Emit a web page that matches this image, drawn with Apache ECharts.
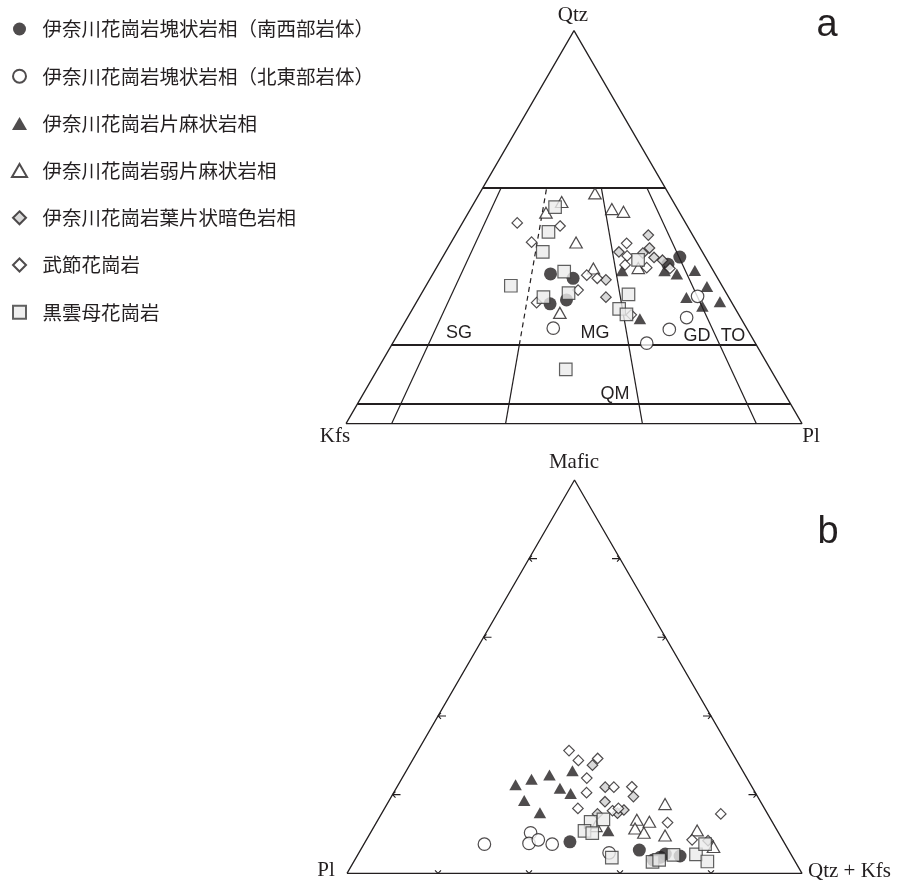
<!DOCTYPE html>
<html><head><meta charset="utf-8">
<script src="https://cdn.jsdelivr.net/npm/echarts@6/dist/echarts.min.js"></script>
<style>html,body{margin:0;padding:0;background:#fff}#c{width:899px;height:883px}</style>
</head><body><div id="c"></div>
<script>
// ---------- Series names (legend) ----------
const seriesNames = [
  '伊奈川花崗岩塊状岩相（南西部岩体）',
  '伊奈川花崗岩塊状岩相（北東部岩体）',
  '伊奈川花崗岩片麻状岩相',
  '伊奈川花崗岩弱片麻状岩相',
  '伊奈川花崗岩葉片状暗色岩相',
  '武節花崗岩',
  '黒雲母花崗岩'
];

// ---------- Diagram a : modal [Qtz, Kfs, Pl] (%) ----------
const qapSWMassive = [[38.1,36.1,25.8],[37.0,31.7,31.3],[30.5,40.0,29.5],[31.5,35.9,32.6],[42.4,5.6,52.0],[40.6,9.1,50.3]];
const qapNEMassive = [[24.3,42.4,33.3],[20.5,23.8,55.7],[24.0,17.1,58.9],[27.0,11.8,61.2],[32.4,6.7,60.9]];
const qapGneissic = [[38.9,20.0,41.1],[38.9,10.7,50.4],[38.1,8.4,53.5],[39.0,4.0,57.0],[34.9,3.4,61.7],[32.1,9.3,58.6],[29.9,6.9,63.2],[31.0,2.5,66.5],[26.7,22.2,51.1]];
const qapWeakGneissic = [[58.6,16.1,25.3],[56.4,24.5,19.1],[53.7,29.3,17.0],[54.6,14.4,31.0],[53.9,12.2,33.9],[46.1,26.5,27.4],[39.5,26.0,34.5],[39.6,16.1,44.3],[28.2,39.0,32.8]];
const qapFoliatedDark = [[48.0,9.7,42.3],[44.7,11.1,44.2],[43.4,13.2,43.4],[42.3,11.3,46.4],[41.6,9.8,48.6],[43.7,18.3,38.0],[36.6,24.7,38.7],[32.2,26.9,40.9]];
const qapBusetsu = [[51.1,36.9,12.0],[50.3,27.9,21.8],[46.2,36.2,17.6],[37.8,28.3,33.9],[37.0,26.4,36.6],[34.0,32.1,33.9],[30.8,42.8,26.4],[45.9,15.5,38.6],[42.7,17.0,40.3],[40.4,18.6,41.0],[39.7,14.2,46.1],[39.5,9.2,51.3],[27.7,23.6,48.7]];
const qapBiotite = [[55.1,26.6,18.3],[48.8,31.2,20.0],[43.7,35.0,21.3],[35.1,46.3,18.6],[38.7,32.8,28.5],[32.2,40.6,27.2],[33.2,34.6,32.2],[32.9,21.6,45.5],[29.2,25.5,45.3],[27.8,24.6,47.6],[13.8,44.9,41.3],[41.7,15.1,43.2]];

// ---------- Diagram b : [Mafic, Pl, Qtz+Kfs] (%) ----------
const mpqSWMassive = [[8.0,47.0,45.0],[5.9,32.8,61.3],[3.4,31.0,65.6],[4.1,29.1,66.8],[4.9,27.6,67.5],[4.4,24.6,71.0]];
const mpqNEMassive = [[7.4,66.1,26.5],[10.3,54.5,35.2],[7.6,56.2,36.2],[8.5,53.7,37.8],[7.4,51.2,41.4],[5.2,39.8,55.0]];
const mpqGneissic = [[22.5,51.7,25.8],[23.9,47.5,28.6],[25.0,43.0,32.0],[26.1,37.4,36.5],[21.6,42.4,36.0],[20.3,40.7,39.0],[18.5,51.8,29.7],[15.4,49.9,34.7],[10.8,37.2,52.0]];
const mpqWeakGneissic = [[12.0,39.3,48.7],[17.6,21.3,61.1],[13.6,29.5,56.9],[13.1,27.0,59.9],[11.4,31.0,57.6],[10.3,29.6,60.1],[9.6,25.3,65.1],[10.9,17.6,71.5],[6.7,16.1,77.2]];
const mpqFoliatedDark = [[27.5,32.3,40.2],[15.1,37.4,47.5],[15.3,32.9,51.8],[8.3,16.5,75.2],[18.2,34.2,47.6],[21.9,32.3,45.8],[19.5,27.3,53.2],[16.1,31.1,52.8]];
const mpqBusetsu = [[31.2,35.6,33.2],[28.7,34.8,36.5],[29.2,30.3,40.5],[24.2,35.2,40.6],[20.5,37.1,42.4],[21.9,30.4,47.7],[22.0,26.4,51.6],[16.5,41.0,42.5],[15.9,33.7,50.4],[16.5,32.1,51.4],[15.1,10.3,74.6],[8.5,19.9,71.6],[12.9,23.1,64.0]];
const mpqBiotite = [[4.0,39.8,56.2],[13.1,39.9,47.0],[13.7,36.8,49.5],[10.8,42.4,46.8],[10.2,41.0,48.8],[2.9,31.4,65.7],[4.7,25.9,69.4],[4.8,20.9,74.3],[3.0,19.3,77.7],[7.4,17.6,75.0],[3.4,29.7,66.9]];

// ---------- QAP field boundaries ----------
const qtzBoundaries = [60, 20, 5];          // Qtz % horizontal lines
const plRatios = [10, 35, 65, 90];          // Pl/(Kfs+Pl) % radial lines
const radialTopQ = 60;
const dashedRatio = 35, dashedFromQ = 20;
const fieldLabels = ['SG', 'MG', 'GD', 'TO', 'QM'];
// ---------- ticks of diagram b ----------
const bTicks = [20, 40, 60, 80];

const INK = '#231f20';
// ternary [top, left, right] -> cartesian (%), top vertex at (50,100)
function toXY(d) { return [d[2] + d[0] / 2, d[0]]; }

const dataA = [qapSWMassive, qapNEMassive, qapGneissic, qapWeakGneissic, qapFoliatedDark, qapBusetsu, qapBiotite];
const dataB = [mpqSWMassive, mpqNEMassive, mpqGneissic, mpqWeakGneissic, mpqFoliatedDark, mpqBusetsu, mpqBiotite];

const markerStyles = [
  {symbol: 'circle', symbolSize: 13, itemStyle: {color: INK, borderColor: INK, borderWidth: 0}},
  {symbol: 'circle', symbolSize: 12.5, itemStyle: {color: '#fff', borderColor: INK, borderWidth: 1.2}},
  {symbol: 'triangle', symbolSize: [12.5, 11], itemStyle: {color: INK, borderColor: INK, borderWidth: 0}},
  {symbol: 'triangle', symbolSize: [12.5, 11], itemStyle: {color: '#fff', borderColor: INK, borderWidth: 1.2}},
  {symbol: 'diamond', symbolSize: 10.5, itemStyle: {color: '#d0d0d0', borderColor: INK, borderWidth: 1.2}},
  {symbol: 'diamond', symbolSize: 10.5, itemStyle: {color: '#fff', borderColor: INK, borderWidth: 1.2}},
  {symbol: 'rect', symbolSize: 12.5, itemStyle: {color: '#ebebeb', borderColor: '#3a3a3a', borderWidth: 1.2}}
];
const legendIcons = ['circle', 'circle',
  'path://M5,0L10,8.66L0,8.66Z', 'path://M5,0L10,8.66L0,8.66Z',
  'path://M5,0L10,5L5,10L0,5Z', 'path://M5,0L10,5L5,10L0,5Z',
  'path://M0,0H10V10H0Z'];

const series = [];
function line(points, g, width, type) {
  series.push({
    type: 'line', xAxisIndex: g, yAxisIndex: g, data: points, symbol: 'none',
    lineStyle: {color: INK, width: width, type: type || 'solid'},
    silent: true, z: 1, animation: false, clip: false
  });
}
// Triangle a outline
line([[0,0],[100,0],[50,100],[0,0]], 0, 1.3);
qtzBoundaries.forEach(q => line([toXY([q, 100 - q, 0]), toXY([q, 0, 100 - q])], 0, 2));
plRatios.forEach(r => {
  const pAt = q => toXY([q, (100 - q) * (100 - r) / 100, (100 - q) * r / 100]);
  if (r === dashedRatio) {
    line([pAt(0), pAt(dashedFromQ)], 0, 1.2);
    line([pAt(dashedFromQ), pAt(radialTopQ)], 0, 1.2, [5, 4]);
  } else {
    line([pAt(0), pAt(radialTopQ)], 0, 1.2);
  }
});
// Triangle b outline and ticks
line([[0,0],[100,0],[50,100],[0,0]], 1, 1.3);
const ax = 3 / 4.55, ay = 3 / 3.933, sx = 8 / 4.55;
bTicks.forEach(t => {
  const L = toXY([t, 100 - t, 0]);
  line([[L[0] + ax, L[1] + ay], L, [L[0] + sx, L[1]], L, [L[0] + ax, L[1] - ay]], 1, 1.1);
  const R = toXY([t, 0, 100 - t]);
  line([[R[0] - ax, R[1] + ay], R, [R[0] - sx, R[1]], R, [R[0] - ax, R[1] - ay]], 1, 1.1);
  const B = toXY([0, 100 - t, t]);
  line([[B[0] - ax, B[1] + ay], B, [B[0] + ax, B[1] + ay]], 1, 1.1);
});

seriesNames.forEach((name, i) => {
  [dataA[i], dataB[i]].forEach((arr, g) => {
    series.push(Object.assign({
      type: 'scatter', name: name, xAxisIndex: g, yAxisIndex: g,
      data: arr.map(toXY), z: 5, animation: false
    }, JSON.parse(JSON.stringify(markerStyles[i]))));
  });
});

const serif = 'Liberation Serif';
const sans = 'Liberation Sans';
function txt(x, y, text, font, size, align) {
  return {type: 'text', x: x, y: y, silent: true,
    style: {text: text, fontFamily: font, fontSize: size, fill: INK, align: align || 'center', verticalAlign: 'middle'}};
}
const fieldPos = [[459, 333], [595, 333], [697, 336], [733, 336], [615, 394]];

const option = {
  backgroundColor: '#fff',
  animation: false,
  grid: [
    {left: 346, top: 30.7, width: 456, height: 393},
    {left: 347, top: 480, width: 455, height: 393.3}
  ],
  xAxis: [
    {gridIndex: 0, type: 'value', min: 0, max: 100, show: false},
    {gridIndex: 1, type: 'value', min: 0, max: 100, show: false}
  ],
  yAxis: [
    {gridIndex: 0, type: 'value', min: 0, max: 100, show: false},
    {gridIndex: 1, type: 'value', min: 0, max: 100, show: false}
  ],
  legend: {
    orient: 'vertical', left: 6, top: 14, itemWidth: 36, itemHeight: 13, itemGap: 27.2,
    symbolKeepAspect: true, selectedMode: false,
    textStyle: {fontFamily: 'Noto Sans CJK JP', fontSize: 19.5, color: INK, lineHeight: 20},
    data: seriesNames.map((n, i) => ({name: n, icon: legendIcons[i]}))
  },
  series: series,
  graphic: [
    txt(573, 15, 'Qtz', serif, 21),
    txt(335, 436, 'Kfs', serif, 21),
    txt(811, 436, 'Pl', serif, 21),
    txt(574, 462, 'Mafic', serif, 21),
    txt(326, 870, 'Pl', serif, 21),
    txt(808, 871, 'Qtz + Kfs', serif, 21, 'left'),
    txt(827, 26, 'a', sans, 38),
    txt(828, 533, 'b', sans, 38)
  ].concat(fieldLabels.map((l, i) => txt(fieldPos[i][0], fieldPos[i][1], l, sans, 18)))
};
const chart = echarts.init(document.getElementById('c'), null, {renderer: 'canvas'});
chart.setOption(option);
</script>
</body></html>
